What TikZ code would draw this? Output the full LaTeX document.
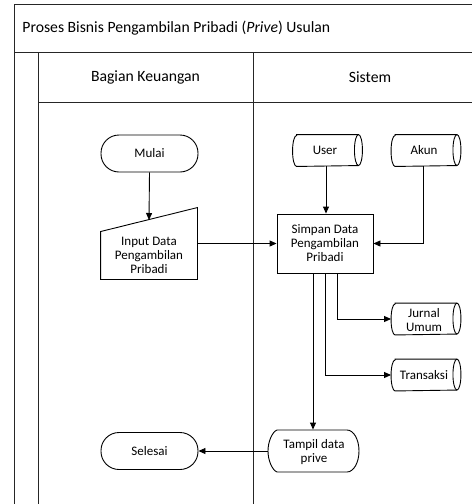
\documentclass[tikz,border=0pt]{standalone}
\usepackage{fontspec}
\setmainfont{Carlito}
\usetikzlibrary{arrows.meta,calc}
\begin{document}
\begin{tikzpicture}[x=1pt,y=-1pt, line width=0.9pt,
  frame/.style={draw, line width=1pt, black!85},
  conn/.style={draw, -{Triangle[length=7pt,width=6pt]}},
  txt/.style={font=\fontsize{13}{14}\selectfont, align=center, inner sep=0pt},
  hdr/.style={font=\fontsize{15.7}{18}\selectfont, inner sep=0pt},
  term/.style={txt, draw, rectangle, rounded corners=18pt, minimum width=97pt, minimum height=37pt},
  procbox/.style={txt, draw, rectangle, minimum width=96pt, minimum height=59pt},
  dbbox/.style={rectangle, minimum width=69pt, minimum height=31pt},
]
\useasboundingbox (0,0) rectangle (472,504);
% frame
\draw[frame] (14,504) -- (14,4) -- (472,4);
\draw[frame] (14,52) -- (472,52);
\draw[frame] (38,52) -- (38,504);
\draw[frame] (38,102) -- (472,102);
\draw[frame] (253,52) -- (253,504);
\node[hdr, anchor=west] (title) at (22,28) {Proses Bisnis Pengambilan Pribadi (\textit{Prive}) Usulan};
\node[hdr] (h1) at (145.5,77) {Bagian Keuangan};
\node[hdr] (h2) at (370,77) {Sistem};

% nodes
\node[term] (mulai) at (149.5,153.5) {Mulai};
\node[txt, minimum width=96pt, minimum height=47pt] (inp) at (149,255.5) {Input Data\\Pengambilan\\Pribadi};
\draw (inp.south west) -- (inp.south east) -- ([yshift=24pt]inp.north east) -- (inp.north west) -- cycle;
\coordinate (inptop) at (149,220);

\node[procbox] (proc) at (325,243.5) {Simpan Data\\Pengambilan\\Pribadi};

\newcommand{\dbdraw}[1]{%
  \draw ([xshift=4pt]#1.north west) -- ([xshift=-4pt]#1.north east)
    arc[start angle=90, end angle=-90, x radius=4pt, y radius=15.5pt]
    -- ([xshift=4pt]#1.south west)
    arc[start angle=270, end angle=90, x radius=4pt, y radius=15.5pt] -- cycle;
  \draw ([xshift=-4pt]#1.north east)
    arc[start angle=90, end angle=270, x radius=4pt, y radius=15.5pt];}

\node[dbbox] (user) at (327.5,150.5) {};
\node[txt] (usert) at (325,150.5) {User};
\dbdraw{user}
\node[dbbox] (akun) at (426,150.5) {};
\node[txt] (akunt) at (424,150.5) {Akun};
\dbdraw{akun}
\node[dbbox] (jurnal) at (426,319) {};
\node[txt] (jurnalt) at (424,320) {Jurnal\\Umum};
\dbdraw{jurnal}
\node[dbbox] (trans) at (426,375) {};
\node[txt] (transt) at (424,375) {Transaksi};
\dbdraw{trans}

\node[minimum width=91pt, minimum height=42pt] (tampil) at (313.5,451) {};
\node[txt] (tampilt) at (314,452) {Tampil data\\prive};
\draw (277,430) -- (347,430) arc[start angle=90, end angle=-90, x radius=12pt, y radius=21pt]
  -- (277,472) .. controls (272,470) and (268,460) .. (268,451)
  .. controls (268,442) and (272,432) .. (277,430) -- cycle;

\node[term] (selesai) at (149.5,451) {Selesai};

% connectors
\draw[conn] (mulai.south) -- (inptop);
\draw[conn] (inp.east |- proc.west) -- (proc.west);
\draw[conn] ([xshift=-1.5pt]user.south) -- ([xshift=-1.5pt]user.south |- proc.north);
\draw[conn] ([xshift=-3pt]akun.south) |- (proc.east);
\draw[conn] ([xshift=12pt]proc.south) |- (jurnal.west);
\draw[conn] (proc.south) |- (trans.west);
\draw[conn] ([xshift=-12pt]proc.south) -- ([xshift=-12pt]proc.south |- tampil.north);
\draw[conn] (tampil.west) -- (selesai.east);
\end{tikzpicture}
\end{document}
